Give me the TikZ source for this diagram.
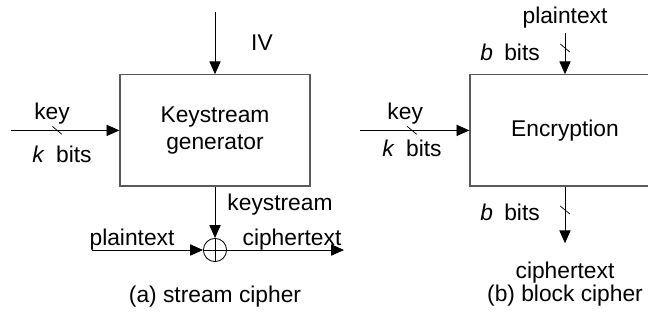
\documentclass[tikz,border=0pt]{standalone}
\usepackage{fontspec}
\setmainfont{Liberation Sans}
\usetikzlibrary{arrows.meta, positioning}
\definecolor{boxGray}{gray}{0.35}

\tikzset{
    blockbox/.style={draw=boxGray, line width=0.9pt, minimum width=4.75cm, minimum height=2.78cm, align=center},
    flow/.style={-{Triangle[length=3.2mm, width=2.8mm]}, line width=0.6pt},
    lbl/.style={inner sep=0pt},
    xorgate/.style={circle, draw, line width=0.6pt, minimum size=0.58cm, inner sep=0pt},
}
\newcommand{\bitmark}[1]{\draw[line width=0.5pt] ([shift={(-0.12,0.1)}]#1) -- ([shift={(0.12,-0.1)}]#1);}

\begin{document}
\begin{tikzpicture}[font=\fontsize{16.2}{19}\selectfont]
    \useasboundingbox (0,0) rectangle (16.2,-8.05);
    \clip (0,0) rectangle (16.2,-8.05);

    % (a) stream cipher
    \node[blockbox] (gen) at (5.375,-3.26) {Keystream\\generator};
    \coordinate (ivIn) at (5.375,-0.3);
    \draw[flow] (ivIn) -- (gen.north);
    \node[lbl] (iv) at (6.55,-1.075) {IV};

    \coordinate (keyA) at (0.275,-3.26);
    \draw[flow] (keyA) -- (gen.west);
    \coordinate (keyAmark) at (1.43,-3.26);
    \bitmark{keyAmark}
    \node[lbl] (keyAlbl) at (1.3,-2.83) {key};
    \node[lbl] (kbitsA) at (1.55,-3.87) {\textit{k}\enspace bits};

    \node[xorgate] (xor) at (5.375,-6.25) {};
    \draw[line width=0.6pt] (xor.north) -- (xor.south) (xor.west) -- (xor.east);
    \draw[flow] (gen.south) -- (xor.north);
    \node[lbl] (ksLbl) at (7.0,-5.12) {keystream};

    \coordinate (ptIn) at (2.3,-6.25);
    \coordinate (ctOut) at (8.6,-6.25);
    \draw[flow] (ptIn) -- (xor.west);
    \draw[flow] (xor.east) -- (ctOut);
    \node[lbl] (ptA) at (3.3,-6.0) {plaintext};
    \node[lbl] (ctA) at (7.3,-6.0) {ciphertext};

    \node[lbl] (capA) at (5.375,-7.42) {(a) stream cipher};

    % (b) block cipher
    \node[blockbox] (enc) at (14.125,-3.26) {Encryption};
    \coordinate (ptB) at (14.125,-0.82);
    \draw[flow] (ptB) -- (enc.north);
    \coordinate (ptBmark) at (14.125,-1.2);
    \bitmark{ptBmark}
    \node[lbl] (ptBlbl) at (14.125,-0.45) {plaintext};
    \node[lbl] (bbitsIn) at (12.75,-1.3) {\textit{b}\enspace bits};

    \coordinate (keyB) at (9.0,-3.26);
    \draw[flow] (keyB) -- (enc.west);
    \coordinate (keyBmark) at (10.3,-3.26);
    \bitmark{keyBmark}
    \node[lbl] (keyBlbl) at (10.13,-2.83) {key};
    \node[lbl] (kbitsB) at (10.3,-3.7) {\textit{k}\enspace bits};

    \coordinate (ctB) at (14.125,-6.08);
    \draw[flow] (enc.south) -- (ctB);
    \coordinate (ctBmark) at (14.125,-5.25);
    \bitmark{ctBmark}
    \node[lbl] (bbitsOut) at (12.75,-5.3) {\textit{b}\enspace bits};
    \node[lbl] (ctBlbl) at (14.125,-6.82) {ciphertext};

    \node[lbl] (capB) at (14.125,-7.4) {(b) block cipher};
\end{tikzpicture}
\end{document}
